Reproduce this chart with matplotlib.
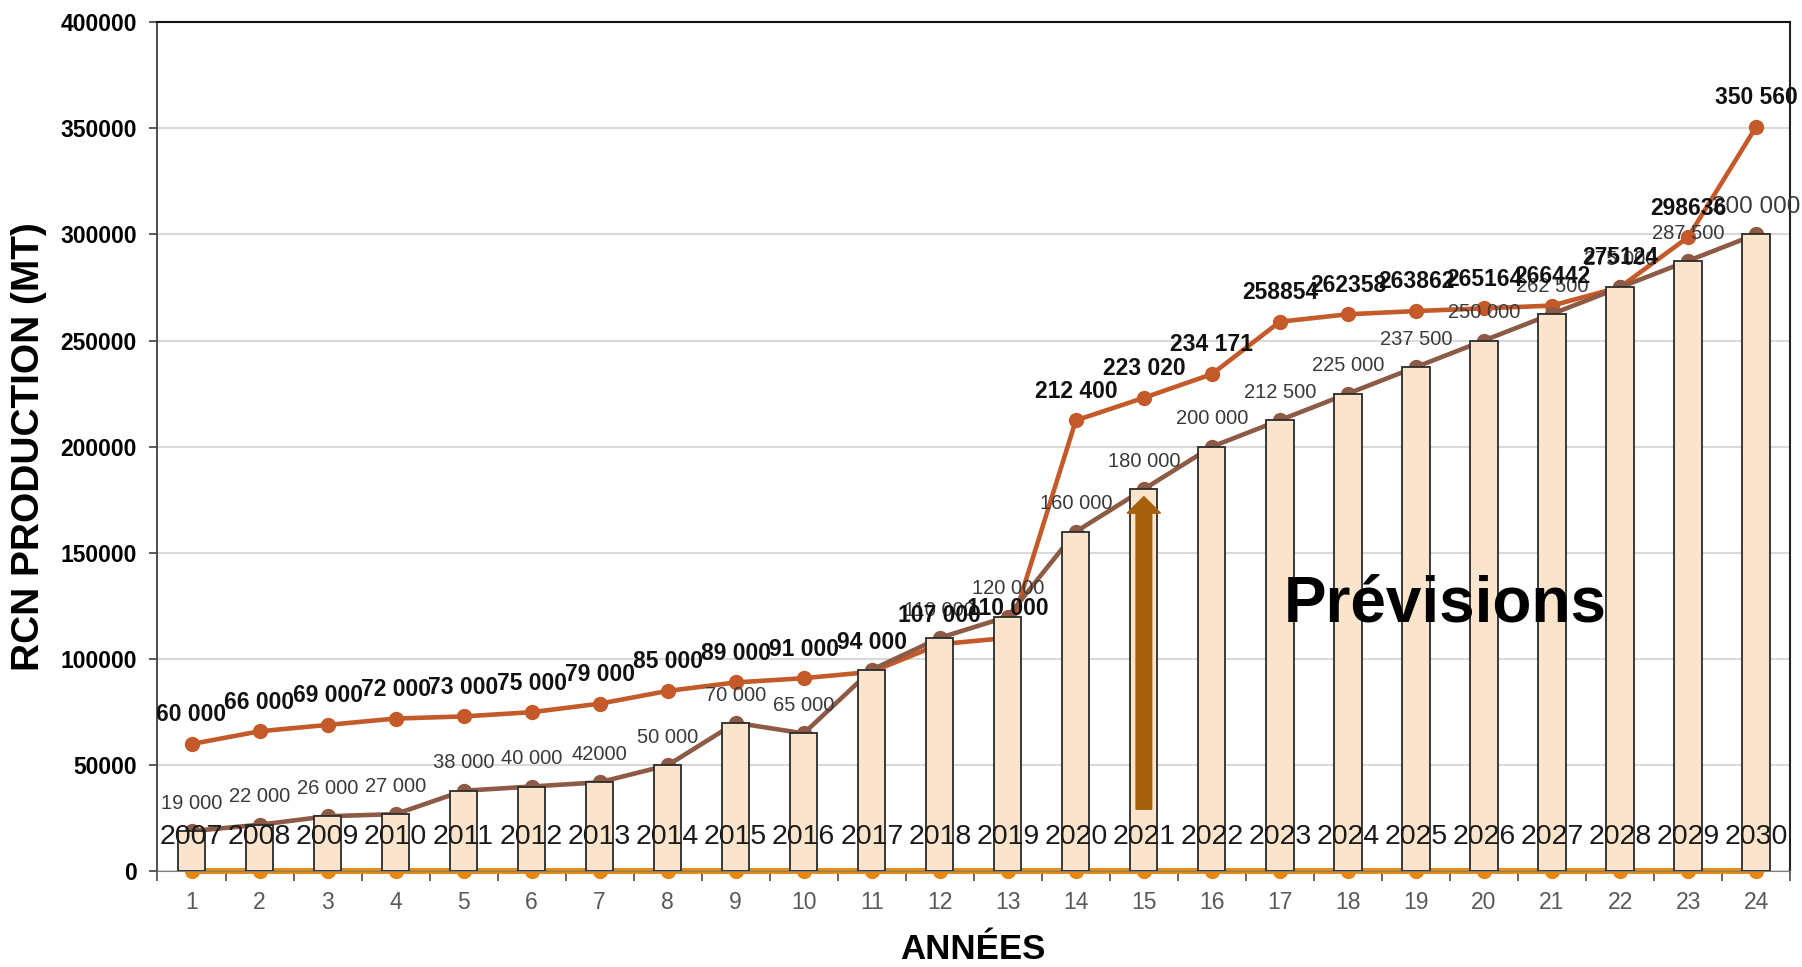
import numpy as np
import matplotlib
matplotlib.use('Agg')
import matplotlib.pyplot as plt
from matplotlib.patches import FancyArrow

plt.rcParams['font.family'] = ['Liberation Sans', 'DejaVu Sans']

# data
periods = list(range(1, 25))
years = [str(y) for y in range(2007, 2031)]
production = [19000, 22000, 26000, 27000, 38000, 40000, 42000, 50000, 70000, 65000,
              95000, 110000, 120000, 160000, 180000, 200000, 212500, 225000, 237500,
              250000, 262500, 275000, 287500, 300000]
production_labels = ['19 000', '22 000', '26 000', '27 000', '38 000', '40 000', '42000',
                     '50 000', '70 000', '65 000', '', '110 000', '120 000', '160 000',
                     '180 000', '200 000', '212 500', '225 000', '237 500', '250 000',
                     '262 500', '275 000', '287 500', '300 000']
capacity = [60000, 66000, 69000, 72000, 73000, 75000, 79000, 85000, 89000, 91000, 94000,
            107000, 110000, 212400, 223020, 234171, 258854, 262358, 263862, 265164,
            266442, 275124, 298636, 350560]
capacity_labels = ['60 000', '66 000', '69 000', '72 000', '73 000', '75 000', '79 000',
                   '85 000', '89 000', '91 000', '94 000', '107 000', '110 000', '212 400',
                   '223 020', '234 171', '258854', '262358', '263862', '265164', '266442',
                   '275124', '298636', '350 560']
baseline = [0] * 24
yticks = list(range(0, 400001, 50000))

fig = plt.figure(figsize=(18.02, 9.67), dpi=100)
ax = fig.add_axes([0.0874, 0.0988, 0.906, 0.8785])

# lines sit behind the bars, as in the original
ax.plot(periods, capacity, color='#C4592A', lw=3.3, marker='o', ms=10, zorder=2)
ax.plot(periods, production, color='#8C5A45', lw=3.3, marker='o', ms=10, zorder=2)
ax.plot(periods, baseline, color='#E8870F', lw=4.2, marker='o', ms=10, zorder=2.5,
        clip_on=False)
ax.bar(periods, production, width=0.4, color='#FAE5CC', edgecolor='#2b2b2b', lw=1.3,
       zorder=3)

for x, v, t in zip(periods, production, production_labels):
    fs = 17.5 if x == 24 else 14.5
    ax.annotate(t, (x, v), xytext=(0, 20), textcoords='offset points', ha='center',
                va='center', fontsize=fs, color='#3a3a3a', zorder=5)
for x, v, t in zip(periods, capacity, capacity_labels):
    ax.annotate(t, (x, v), xytext=(0, 21), textcoords='offset points', ha='center',
                va='center', fontsize=16.5, fontweight='bold', color='#111111', zorder=6)
for x, v, t in zip(periods, baseline, years):
    ax.annotate(t, (x, v), xytext=(0, 25), textcoords='offset points', ha='center',
                va='center', fontsize=20.5, color='#1a1a1a', zorder=5)

ax.add_patch(FancyArrow(15, 29300, 0, 147200, width=0.23, head_width=0.49,
                        head_length=7800, length_includes_head=True,
                        color='#A65F0C', zorder=4))
ax.text(19.43, 117600, 'Prévisions', fontsize=46, fontweight='bold', ha='center',
        va='baseline', zorder=6)

ax.set_xlim(0.5, 24.5)
ax.set_ylim(0, 400000)
ax.set_yticks(yticks)
ax.set_yticklabels([str(v) for v in yticks], fontsize=16.5, fontweight='bold')
ax.set_xticks(periods)
ax.set_xticklabels([str(p) for p in periods])
ax.set_xticks(np.arange(0.5, 25, 1), minor=True)
ax.tick_params(axis='x', which='major', length=0, pad=14, labelsize=16.5,
               labelcolor='#595959')
ax.tick_params(axis='x', which='minor', length=7, width=1.3, color='#595959')
ax.tick_params(axis='y', length=6, width=1.2, pad=9, color='#404040')

ax.yaxis.grid(True, color='#D9D9D9', lw=1.5)
ax.set_axisbelow(True)
ax.spines['top'].set_color('#111111')
ax.spines['top'].set_linewidth(1.5)
ax.spines['right'].set_color('#222222')
ax.spines['right'].set_linewidth(1.5)
ax.spines['left'].set_color('#404040')
ax.spines['left'].set_linewidth(1.3)
ax.spines['bottom'].set_color('#7f7f7f')

fig.text(0.016, 0.538, 'RCN PRODUCTION (MT)', rotation=90, ha='center', va='center',
         fontsize=28, fontweight='bold')
fig.text(0.54, 0.0176, 'ANNÉES', ha='center', va='center', fontsize=25,
         fontweight='bold')

fig.savefig('out.png', dpi=100)
